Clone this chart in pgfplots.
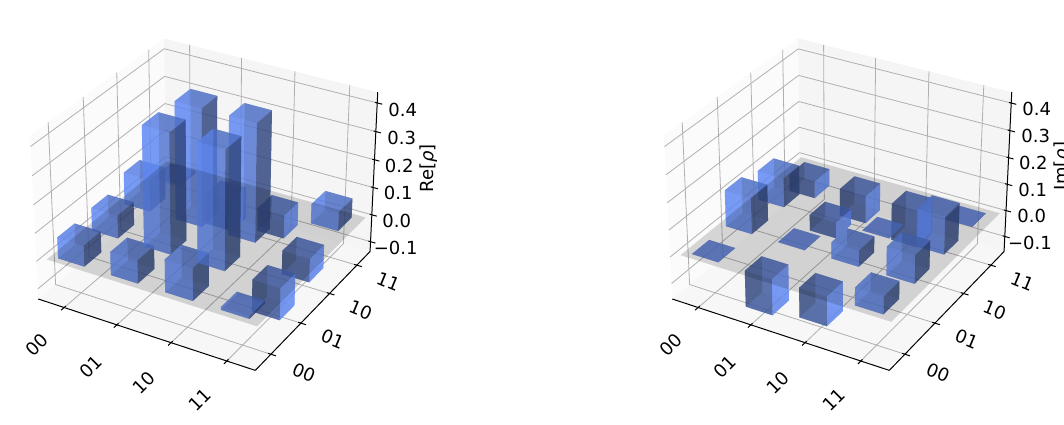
\documentclass[border=0pt]{standalone}
\usepackage{fontspec}
\setmainfont{DejaVu Sans}
\usepackage{pgfplots}
\pgfplotsset{compat=1.18}
\definecolor{cTop}{RGB}{87,125,223}
\definecolor{cLight}{RGB}{95,136,243}
\definecolor{cDark}{RGB}{50,72,128}
\definecolor{cBot}{RGB}{62,89,159}
\definecolor{paneX}{gray}{0.985}
\definecolor{paneY}{gray}{0.96}
\definecolor{paneZ}{gray}{0.97}
\definecolor{gridc}{gray}{0.69}
\pgfplotsset{
  bf/.style={draw=none,fill=#1,fill opacity=0.6,forget plot},
  gl/.style={draw=gridc,line width=0.8pt,forget plot},
  al/.style={draw=black,line width=1pt,forget plot},
}
% matplotlib's perspective for elev=30, azim=-60, box 4:4:3, dist=10
\def\offx{0}\def\zlo{0}\def\zhi{1}
\newcommand\Pj[4]{%
  \pgfmathsetmacro\rsA{1.255*(#2/4-.5)}%
  \pgfmathsetmacro\rsB{1.255*(#3/4-.5)}%
  \pgfmathsetmacro\rsC{.941*((#4-\zlo)/(\zhi-\zlo)-.5)}%
  \pgfmathsetmacro\rsXv{.86603*\rsA+.5*\rsB}%
  \pgfmathsetmacro\rsYv{-.25*\rsA+.43301*\rsB+.86603*\rsC}%
  \pgfmathsetmacro\rsZv{.43301*\rsA-.75*\rsB+.5*\rsC}%
  \pgfmathsetmacro\rsD{10-\rsZv}%
  \pgfmathsetmacro\rsX{207.4+\offx+1980*\rsXv/\rsD}%
  \pgfmathsetmacro\rsY{425-196+1980*\rsYv/\rsD}%
  \edef#1{(\rsX,\rsY)}%
}
\newcommand\Fc[5]{\edef\rsT{\noexpand\addplot[#1] coordinates {#2#3#4#5};}\rsT}
\newcommand\Ln[7]{% style, x1 y1 z1, x2 y2 z2
  \Pj\rsP{#2}{#3}{#4}\Pj\rsQ{#5}{#6}{#7}%
  \edef\rsT{\noexpand\addplot[#1] coordinates {\rsP\rsQ};}\rsT}
\newcommand\Bar[3]{% cell i, cell j, value
  \pgfmathsetmacro\xa{#1+.25}\pgfmathsetmacro\xb{#1+.75}%
  \pgfmathsetmacro\ya{#2+.25}\pgfmathsetmacro\yb{#2+.75}%
  \Pj\cA{\xa}{\ya}{0}\Pj\cB{\xb}{\ya}{0}\Pj\cC{\xb}{\yb}{0}\Pj\cD{\xa}{\yb}{0}%
  \Pj\cE{\xa}{\ya}{#3}\Pj\cF{\xb}{\ya}{#3}\Pj\cG{\xb}{\yb}{#3}\Pj\cH{\xa}{\yb}{#3}%
  \pgfmathparse{#3<0?1:0}%
  \ifnum\pgfmathresult>0
    \Fc{bf=cTop}\cE\cF\cG\cH
    \Fc{bf=cLight}\cD\cC\cG\cH
    \Fc{bf=cDark}\cA\cD\cH\cE
    \Fc{bf=cLight}\cB\cC\cG\cF
    \Fc{bf=cDark}\cA\cB\cF\cE
    \Fc{bf=cBot}\cA\cB\cC\cD
  \else
    \Fc{bf=cBot}\cA\cB\cC\cD
    \Fc{bf=cDark}\cD\cC\cG\cH
    \Fc{bf=cLight}\cA\cD\cH\cE
    \Fc{bf=cDark}\cB\cC\cG\cF
    \Fc{bf=cLight}\cA\cB\cF\cE
    \Fc{bf=cTop}\cE\cF\cG\cH
  \fi
}
\newcommand\Frame{%
  \Pj\cA{0}{0}{\zlo}\Pj\cB{4}{0}{\zlo}\Pj\cC{4}{4}{\zlo}\Pj\cD{0}{4}{\zlo}%
  \Pj\cE{0}{0}{\zhi}\Pj\cG{4}{4}{\zhi}\Pj\cH{0}{4}{\zhi}%
  \Fc{draw=none,fill=paneX,forget plot}\cA\cD\cH\cE
  \Fc{draw=none,fill=paneY,forget plot}\cD\cC\cG\cH
  \Fc{draw=none,fill=paneZ,forget plot}\cA\cB\cC\cD
  \foreach \t in {0.5,1.5,2.5,3.5}{%
    \Ln{gl}{\t}{0}{\zlo}{\t}{4}{\zlo}\Ln{gl}{\t}{4}{\zlo}{\t}{4}{\zhi}%
    \Ln{gl}{0}{\t}{\zhi}{0}{\t}{\zlo}\Ln{gl}{0}{\t}{\zlo}{4}{\t}{\zlo}%
  }%
  \foreach \t in {-0.1,0,0.1,0.2,0.3,0.4}{%
    \Ln{gl}{0}{0}{\t}{0}{4}{\t}\Ln{gl}{0}{4}{\t}{4}{4}{\t}%
    \Ln{al}{3.96}{4}{\t}{4.09}{4}{\t}%
  }%
  \foreach \t in {0.5,1.5,2.5,3.5}{%
    \Ln{al}{\t}{0.05}{\zlo}{\t}{-0.09}{\zlo}%
    \Ln{al}{3.95}{\t}{\zlo}{4.09}{\t}{\zlo}%
  }%
  \Ln{al}{0}{0}{\zlo}{4}{0}{\zlo}\Ln{al}{4}{0}{\zlo}{4}{4}{\zlo}\Ln{al}{4}{4}{\zlo}{4}{4}{\zhi}%
}
\newcommand\Plane{%
  \Pj\cA{0.11}{0.13}{0}\Pj\cB{3.95}{0.13}{0}\Pj\cC{3.95}{3.87}{0}\Pj\cD{0.11}{3.87}{0}%
  \Fc{draw=none,fill=black,fill opacity=0.15,forget plot}\cA\cB\cC\cD
}
\newcommand\Tx[4]{\node[font=\fontsize{18}{21}\selectfont,rotate=#3,inner sep=0pt] at (axis cs:#1,425-#2) {#4};}
\newcommand\Labels[1]{%
  \Tx{37.3+#1}{345}{45}{00}\Tx{90.7+#1}{366.7}{45}{01}\Tx{144+#1}{383}{45}{10}\Tx{200+#1}{400}{45}{11}%
  \Tx{304+#1}{372.7}{-22.5}{00}\Tx{332.7+#1}{339.3}{-22.5}{01}\Tx{360.7+#1}{310}{-22.5}{10}\Tx{388.3+#1}{281.7}{-22.5}{11}%
}
\begin{document}
\begin{tikzpicture}
\path[use as bounding box,clip] (0,0) rectangle (1064pt,425pt);
\begin{axis}[at={(0pt,0pt)},anchor=south west,scale only axis,width=1064pt,height=425pt,
  xmin=0,xmax=1064,ymin=0,ymax=425,hide axis,clip=false]
% ---- Re
\def\offx{0}\def\zlo{-0.137}\def\zhi{0.437}
\Frame
\Bar{0}{3}{0.01}\Bar{1}{3}{-0.115}\Bar{2}{3}{-0.085}\Bar{0}{2}{0.115}
\Bar{3}{3}{0.07}\Bar{0}{1}{0.082}\Bar{3}{2}{-0.085}\Bar{1}{2}{0.42}
\Bar{0}{0}{0.075}\Bar{2}{2}{0.42}\Bar{3}{1}{-0.115}\Bar{1}{0}{0.082}
\Bar{1}{1}{0.425}\Bar{2}{0}{0.115}\Bar{2}{1}{0.42}\Bar{3}{0}{0.01}
\Plane
\Labels{0}
\Tx{402.7}{110}{0}{0.4}\Tx{401.7}{137.7}{0}{0.3}\Tx{399.3}{166}{0}{0.2}\Tx{398.3}{193.3}{0}{0.1}\Tx{396.7}{221}{0}{0.0}\Tx{395.7}{247.7}{0}{−0.1}
\Tx{428.3}{168.3}{90}{Re[{\itshape ρ}]}
% ---- Im
\def\offx{634}\def\zlo{-0.159}\def\zhi{0.439}
\Frame
\Bar{0}{3}{-0.065}\Bar{1}{3}{-0.105}\Bar{2}{3}{-0.14}\Bar{0}{2}{0.11}
\Bar{1}{2}{-0.06}\Bar{3}{3}{0}\Bar{2}{2}{0}\Bar{0}{1}{0.135}
\Bar{1}{1}{0}\Bar{0}{0}{0}\Bar{3}{2}{0.14}\Bar{2}{1}{0.06}
\Bar{1}{0}{-0.135}\Bar{3}{1}{0.105}\Bar{2}{0}{-0.11}\Bar{3}{0}{0.065}
\Plane
\Labels{634}
\Tx{1036.7}{109.3}{0}{0.4}\Tx{1035.7}{136}{0}{0.3}\Tx{1033.3}{163.3}{0}{0.2}\Tx{1032.7}{190}{0}{0.1}\Tx{1031.7}{216}{0}{0.0}\Tx{1030}{242.7}{0}{−0.1}
\Tx{1062.3}{166}{90}{Im[{\itshape ρ}]}
\end{axis}
\end{tikzpicture}
\end{document}
